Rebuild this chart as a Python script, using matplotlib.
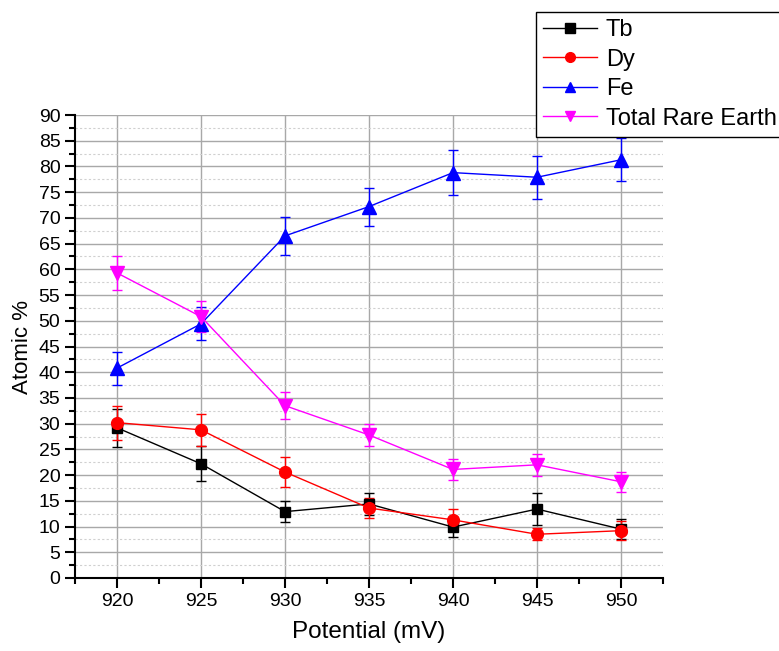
import matplotlib
matplotlib.use("Agg")
import matplotlib.pyplot as plt
from matplotlib.ticker import MultipleLocator

plt.rcParams["font.family"] = ["Liberation Sans", "DejaVu Sans"]

potential = [920, 925, 930, 935, 940, 945, 950]
tb = [29.2, 22.2, 12.9, 14.4, 9.9, 13.4, 9.5]
tb_err = [3.7, 3.4, 2.1, 2.2, 2.0, 3.1, 1.9]
dy = [30.2, 28.8, 20.6, 13.6, 11.3, 8.5, 9.2]
dy_err = [3.3, 3.1, 2.9, 2.0, 2.2, 1.2, 1.8]
fe = [40.8, 49.4, 66.5, 72.2, 78.8, 77.9, 81.3]
fe_err = [3.2, 3.2, 3.7, 3.7, 4.3, 4.2, 4.2]
total_re = [59.3, 50.8, 33.5, 27.8, 21.1, 22.0, 18.7]
total_re_err = [3.3, 3.0, 2.6, 2.2, 2.1, 2.1, 2.0]

series = [
    ("Tb", tb, tb_err, "black", "s", 7),
    ("Dy", dy, dy_err, "red", "o", 8.5),
    ("Fe", fe, fe_err, "blue", "^", 9.5),
    ("Total Rare Earth", total_re, total_re_err, "magenta", "v", 9.5),
]

fig = plt.figure(figsize=(7.79, 6.51), dpi=100)
ax = fig.add_axes([75 / 779, 1 - 578 / 651, (663 - 75) / 779, (578 - 115) / 651])

for name, vals, errs, color, marker, ms in series:
    ax.errorbar(potential, vals, yerr=errs, fmt="none", ecolor=color,
                elinewidth=1, capsize=3.3, capthick=1, zorder=3)
    ax.plot(potential, vals, color=color, marker=marker, markersize=ms,
            linewidth=1, label=name, zorder=4)

ax.set_xlim(917.5, 952.5)
ax.set_ylim(0, 90)
ax.xaxis.set_major_locator(MultipleLocator(5))
ax.xaxis.set_minor_locator(MultipleLocator(2.5))
ax.yaxis.set_major_locator(MultipleLocator(5))
ax.yaxis.set_minor_locator(MultipleLocator(2.5))

ax.grid(True, which="major", axis="both", color="#a8a8a8", linewidth=1)
ax.grid(True, which="minor", axis="y", color="#d0d0d0", linewidth=0.8, linestyle=(0, (2, 2)))
ax.set_axisbelow(True)

for side in ["top", "right"]:
    ax.spines[side].set_visible(False)
for side in ["left", "bottom"]:
    ax.spines[side].set_linewidth(1.5)

ax.tick_params(which="major", direction="out", length=7, width=1.5, labelsize=14)
ax.tick_params(which="minor", direction="out", length=4, width=1.5)

ax.set_xlabel("Potential (mV)", fontsize=17.5, labelpad=8)
ax.set_ylabel("Atomic %", fontsize=16, labelpad=4)

leg = fig.legend(loc="upper left", bbox_to_anchor=(536 / 779, 1 - 12 / 651),
                 borderaxespad=0, fontsize=17, handlelength=2.3, frameon=True,
                 fancybox=False, edgecolor="black", framealpha=1,
                 labelspacing=0.32, handletextpad=0.35, borderpad=0.3)
leg.get_frame().set_linewidth(1)
for h in leg.legend_handles:
    h.set_markersize(7)

fig.savefig("out.png", dpi=100)
